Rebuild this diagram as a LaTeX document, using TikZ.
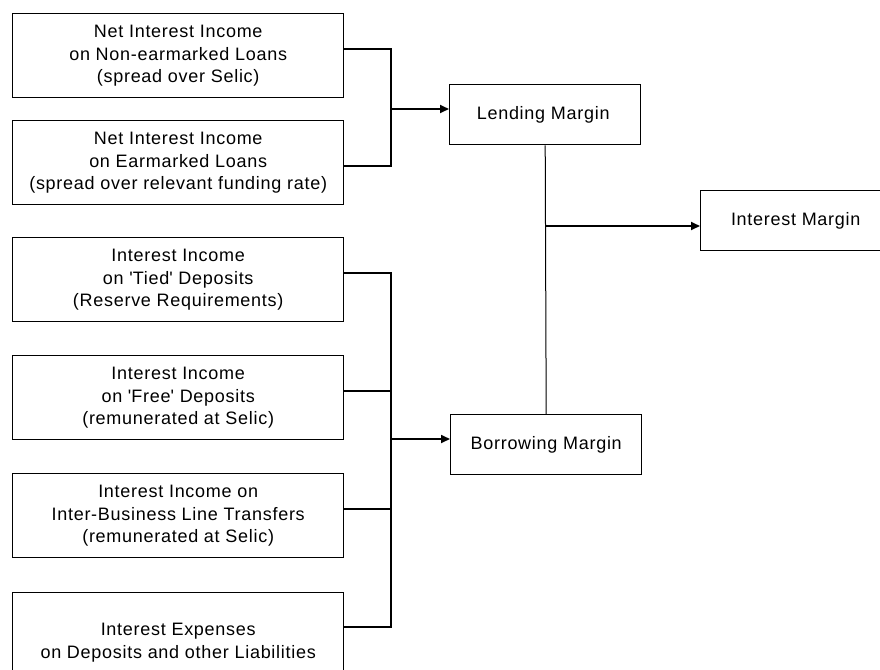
\documentclass[tikz,border=0pt]{standalone}
\usepackage{fontspec}
\setmainfont{Liberation Sans}[LetterSpace=4]
\usetikzlibrary{arrows.meta}
\begin{document}
\begin{tikzpicture}[x=1pt,y=-1pt,
  box/.style={draw=black, line width=1.4pt, rectangle, anchor=north west, align=center,
    inner sep=0pt, font=\fontsize{18}{22.5}\selectfont},
  lbox/.style={box, minimum width=331pt, minimum height=84pt},
  mbox/.style={box, minimum width=191pt, minimum height=60pt},
  conn/.style={line width=1.7pt},
  arr/.style={line width=1.7pt, -{Triangle[length=9pt,width=8pt]}},
  thin/.style={line width=1pt}]
\useasboundingbox (0,0) rectangle (880,669);
\fill[white] (0,0) rectangle (880,669);
\node[lbox] (b1) at (12,13) {Net Interest Income\\on Non-earmarked Loans\\(spread over Selic)};
\node[lbox] (b2) at (12,120) {Net Interest Income\\on Earmarked Loans\\(spread over relevant funding rate)};
\node[lbox] (b3) at (12,237) {Interest Income\\on \textquotesingle Tied\textquotesingle{} Deposits\\(Reserve Requirements)};
\node[lbox] (b4) at (12,355) {Interest Income\\on \textquotesingle Free\textquotesingle{} Deposits\\(remunerated at Selic)};
\node[lbox] (b5) at (12,473) {Interest Income on\\Inter-Business Line Transfers\\(remunerated at Selic)};
\node[lbox] (b6) at (12,592) {\rule{0pt}{28pt}Interest Expenses\\on Deposits and other Liabilities};
\node[mbox] (lend) at (449,84) {\hspace*{-4pt}Lending Margin};
\node[mbox] (borr) at (450,414) {Borrowing Margin};
\node[box, minimum width=190pt, minimum height=60pt] (intm) at (700,190) {Interest Margin};
% junction points
\coordinate (jl) at (391,109);
\coordinate (jb) at (391,439);
\coordinate (jm) at (546,226);
\coordinate (c1) at (391,49);
\coordinate (c2) at (391,166);
\coordinate (c3) at (391,273);
\coordinate (c4) at (391,391);
\coordinate (c5) at (391,509);
\coordinate (c6) at (391,627);
% lending inputs
\draw[conn] (b1.east |- c1) -- (c1) -- (c2) -- (b2.east |- c2);
\draw[arr] (jl) -- (lend.west |- jl);
% borrowing inputs
\draw[conn] (b3.east |- c3) -- (c3) -- (c6) -- (b6.east |- c6);
\draw[conn] (b4.east |- c4) -- (c4);
\draw[conn] (b5.east |- c5) -- (c5);
\draw[arr] (jb) -- (borr.west |- jb);
% margins to interest margin
\draw[thin] (lend.south) -- (borr.north);
\draw[arr] (jm) -- (intm.west |- jm);
\end{tikzpicture}
\end{document}
